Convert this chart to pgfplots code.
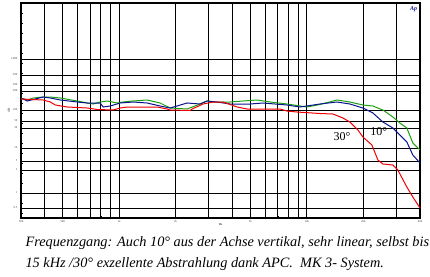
\documentclass[border=0pt]{standalone}
\usepackage{fontspec}
\setmainfont{Liberation Serif}
\usepackage{pgfplots}
\pgfplotsset{compat=1.18}
\definecolor{cred}{RGB}{240,0,0}
\definecolor{cblue}{RGB}{10,20,140}
\definecolor{cgreen}{RGB}{30,160,20}
\begin{document}
\begin{tikzpicture}
\useasboundingbox (0pt,0pt) rectangle (430pt,-276pt);
\begin{axis}[
  at={(21pt,-3pt)}, anchor=north west,
  scale only axis, width=399pt, height=215pt,
  xmode=log, xmin=300, xmax=40000, ymin=0, ymax=215,
  axis line style={line width=1.4pt},
  xtick={300,500,1000,2000,5000,10000,20000,40000},
  xticklabels={300,500,1k,2k,5k,10k,20k,40k},
  minor xtick={400,600,700,800,900,3000,4000,6000,7000,8000,9000,30000},
  ytick={10,25,48,57,70,90,97,108,127,133,143,159},
  yticklabels={0.5,1,3,5,10,30,50,100,200,300,500,1.000},
  minor ytick={5,15,...,210},
  xmajorgrids, xminorgrids, ymajorgrids,
  grid style={black, line width=1pt},
  minor grid style={black, line width=1pt},
  major tick length=0pt, minor tick length=2pt,
  tick align=inside, ytick pos=left, xtick pos=bottom,
  minor tick style={black, line width=0.6pt},
  ticklabel style={font=\fontsize{3}{3}\selectfont, text=black!70},
  xticklabel style={yshift=1pt},
  xlabel={Hz}, xlabel style={font=\fontsize{3}{3}\selectfont, yshift=6pt},
  ylabel={dB}, ylabel style={font=\fontsize{3}{3}\selectfont, yshift=-6pt},
  clip=false,
]
\addplot[cgreen, line width=1pt] coordinates {
(300,120)(324,118)(349,120)(394,121)(430,121)(486,120)(598,117)(676,115)(727,114)(792,116)(864,117)(976,115)(1050,116)(1187,117)(1409,118)(1652,115)(1868,110)(2300,109)(2697,114)(2938,117)(3162,116)(3894,116)(4567,117)(5420,118)(6358,116)(7827,114)(10000,111)(11725,113.5)(14441,118)(16931,116)(19857,113)(22443,112)(25375,108)(28680,101)(31238,95)(34037,90)(36627,75)(40000,68)};
\addplot[cblue, line width=1pt] coordinates {
(300,120)(324,117)(394,121)(430,120)(486,118)(598,116)(676,115)(792,115)(822,111)(896,112)(1012,115)(1187,116)(1409,115)(1652,112)(1868,110)(2300,115)(2697,114)(2938,117)(3321,116)(3894,114)(4976,114)(5834,115)(7827,113)(9181,111)(11725,114)(14441,116)(16931,114)(19857,110)(22443,105)(25375,96)(28680,90)(31238,83)(34037,76)(36627,63)(40000,55)};
\addplot[cred, line width=1pt] coordinates {
(300,119)(394,118)(430,116)(457,113)(529,111)(676,110)(764,108.5)(929,108)(1012,110)(1103,111)(1593,111)(1800,109)(1868,108)(2387,107.5)(2445,109)(2798,114)(3162,116)(3574,116)(4244,111)(4797,109)(7185,109)(7827,107)(8847,106)(11725,104.5)(13749,104)(15546,100)(16931,96)(18679,88)(19857,81)(22167,73)(23866,58)(25375,54)(28680,53)(30479,48)(34037,31)(36627,21)(40000,10)};
\node[font=\fontsize{12}{12}\selectfont] at (axis cs:15360,81) {30°};
\node[font=\fontsize{12}{12}\selectfont] at (axis cs:24150,86) {10°};
\node[font=\bfseries\itshape\fontsize{6}{6}\selectfont, text=cblue] at (axis cs:37000,209) {Ap};
\end{axis}
\node[anchor=base west, font=\itshape\fontsize{14.3}{14.3}\selectfont] at (22pt,-246pt) {Frequenzgang: Auch 10° aus der Achse vertikal, sehr linear, selbst bis};
\node[anchor=base west, font=\itshape\fontsize{14.3}{14.3}\selectfont] at (22pt,-267pt) {15 kHz /30° exzellente Abstrahlung dank APC.\ \ MK 3- System.};
\end{tikzpicture}
\end{document}
